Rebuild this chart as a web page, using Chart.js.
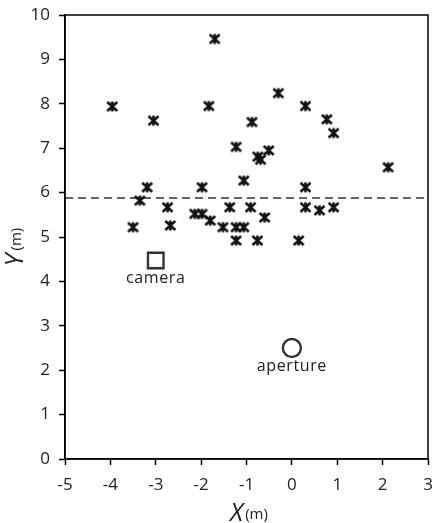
<!DOCTYPE html>
<html>
<head>
<meta charset="utf-8">
<script src="https://cdn.jsdelivr.net/npm/chart.js@4.4.0/dist/chart.umd.min.js"></script>
<style>
  html, body { margin: 0; padding: 0; background: #fff; }
  #wrap { width: 433px; height: 523px; }
</style>
</head>
<body>
<div id="wrap"><canvas id="chart"></canvas></div>
<script>
// target positions (m)
var targetX = [-3.96, -3.05, -1.70, -1.83, -0.30, 0.30, 0.77, 0.92, -0.88, -1.23,
               -0.75, -0.69, -0.51, 2.12, -1.06, -3.19, -1.98, 0.30, -3.35, -2.74,
               -1.37, -0.91, 0.30, 0.61, 0.92, -2.14, -1.98, -1.80, -0.60, -3.50,
               -2.68, -1.52, -1.23, -1.06, -1.23, -0.76, 0.15];
var targetY = [7.94, 7.62, 9.46, 7.95, 8.24, 7.95, 7.65, 7.34, 7.59, 7.03,
               6.81, 6.74, 6.95, 6.57, 6.27, 6.12, 6.12, 6.12, 5.82, 5.67,
               5.67, 5.67, 5.67, 5.60, 5.67, 5.52, 5.52, 5.37, 5.44, 5.22,
               5.26, 5.22, 5.22, 5.22, 4.92, 4.92, 4.92];
var thresholdY = 5.88;
var xRange = [-5, 3];
var yRange = [0, 10];
var camera = { x: -3.0, y: 4.47, label: "camera" };
var aperture = { x: 0.0, y: 2.5, label: "aperture" };

// asterisk marker like excel
function makeStar(){
    var c = document.createElement('canvas');
    c.width = 13; c.height = 13;
    var g = c.getContext('2d');
    g.strokeStyle = '#111';
    g.lineWidth = 2.6;
    g.beginPath();
    g.moveTo(1.5, 2); g.lineTo(11.5, 11);
    g.moveTo(11.5, 2); g.lineTo(1.5, 11);
    g.moveTo(6.5, 1.5); g.lineTo(6.5, 11.5);
    g.stroke();
    return c;
}

var points = [];
for (var i = 0; i < targetX.length; i++){
    points.push({ x: targetX[i], y: targetY[i] });
}

var framePlugin = {
    id: 'frame',
    afterDraw: function(chart){
        var ctx = chart.ctx;
        var a = chart.chartArea;
        var xs = chart.scales.x, ys = chart.scales.y;
        ctx.save();
        ctx.strokeStyle = '#000';
        ctx.lineWidth = 1.5;
        ctx.strokeRect(a.left, a.top, a.right - a.left, a.bottom - a.top);

        ctx.fillStyle = '#222';
        ctx.font = '16px "Open Sans"';
        ctx.letterSpacing = '0.6px';
        ctx.textAlign = 'center';
        ctx.textBaseline = 'top';
        [camera, aperture].forEach(function(m){
            ctx.fillText(m.label, xs.getPixelForValue(m.x), ys.getPixelForValue(m.y) + 10);
        });
        ctx.letterSpacing = '0px';

        // X title
        ctx.textBaseline = 'alphabetic';
        ctx.textAlign = 'left';
        var big = 'italic 25px "Open Sans"', small = '15px "Open Sans"';
        ctx.font = big; var w1 = ctx.measureText('X').width;
        ctx.font = small; var w2 = ctx.measureText('(m)').width;
        var x0 = 249 - (w1 + 2 + w2) / 2;
        ctx.font = big; ctx.fillText('X', x0, 521);
        ctx.font = small; ctx.fillText('(m)', x0 + w1 + 2, 519);

        // Y title
        ctx.translate(23, 247);
        ctx.rotate(-Math.PI / 2);
        ctx.font = big; w1 = ctx.measureText('Y').width;
        var y0 = -(w1 + 3 + w2) / 2;
        ctx.fillText('Y', y0, 0);
        ctx.font = small; ctx.fillText('(m)', y0 + w1 + 3, -2);
        ctx.restore();
    }
};

var ctx = document.getElementById('chart').getContext('2d');
var myChart = new Chart(ctx, {
    type: 'scatter',
    data: {
        datasets: [{
            label: 'targets',
            data: points,
            pointStyle: makeStar(),
            pointRadius: 6,
            pointHoverRadius: 6
        }, {
            label: 'threshold',
            type: 'line',
            data: [{ x: xRange[0], y: thresholdY }, { x: xRange[1], y: thresholdY }],
            borderColor: '#333',
            borderWidth: 1.5,
            borderDash: [8, 5],
            pointRadius: 0,
            fill: false
        }, {
            label: 'camera',
            data: [{ x: camera.x, y: camera.y }],
            pointStyle: 'rect',
            pointRadius: 11,
            borderColor: '#333',
            borderWidth: 2.4,
            backgroundColor: '#fff'
        }, {
            label: 'aperture',
            data: [{ x: aperture.x, y: aperture.y }],
            pointStyle: 'circle',
            pointRadius: 9,
            borderColor: '#333',
            borderWidth: 2.4,
            backgroundColor: '#fff'
        }]
    },
    options: {
        responsive: true,
        maintainAspectRatio: false,
        animation: false,
        layout: { autoPadding: false, padding: { top: 15, right: 5, left: 0, bottom: 0 } },
        plugins: {
            legend: { display: false },
            tooltip: { enabled: false }
        },
        scales: {
            x: {
                type: 'linear',
                min: xRange[0],
                max: xRange[1],
                ticks: { stepSize: 1, color: '#222', font: { family: 'Open Sans', size: 17 }, padding: 10 },
                grid: { drawOnChartArea: false, tickLength: 6, tickColor: '#000', tickWidth: 1.5 },
                border: { color: '#000', width: 1.5 },
                afterFit: function(s){ s.height = 64; s.paddingLeft = 0; s.paddingRight = 0; }
            },
            y: {
                type: 'linear',
                min: yRange[0],
                max: yRange[1],
                ticks: { stepSize: 1, color: '#222', font: { family: 'Open Sans', size: 17 }, padding: 9 },
                grid: { drawOnChartArea: false, tickLength: 6, tickColor: '#000', tickWidth: 1.5 },
                border: { color: '#000', width: 1.5 },
                afterFit: function(s){ s.width = 65; s.paddingTop = 0; s.paddingBottom = 0; }
            }
        }
    },
    plugins: [framePlugin]
});
</script>
</body>
</html>
